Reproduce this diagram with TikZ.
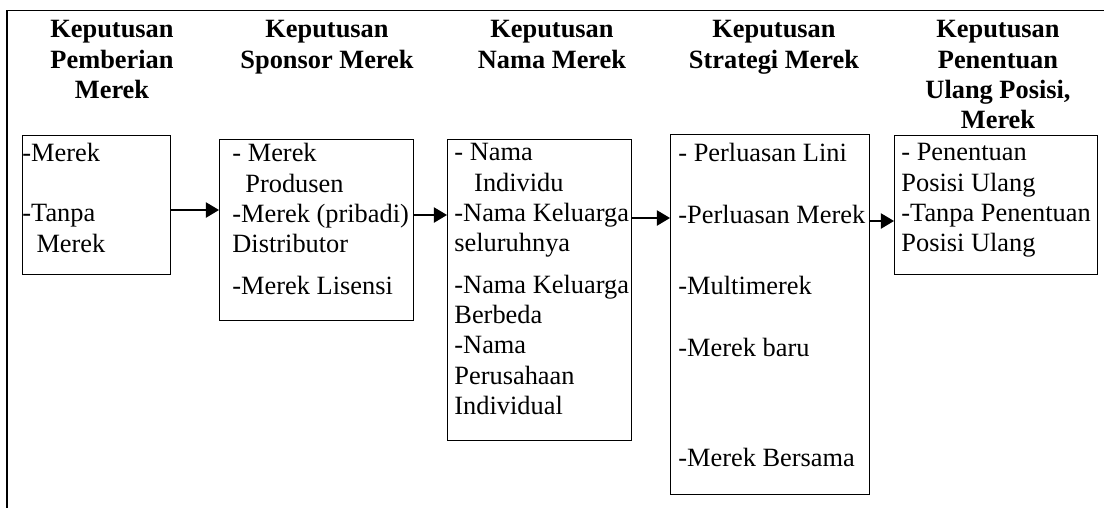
\documentclass[tikz,border=0pt]{standalone}
\usepackage{fontspec}
\setmainfont{Liberation Serif}
\usepackage{tikz}
\usetikzlibrary{arrows.meta}
\usetikzlibrary{positioning}
\newcommand{\pxu}{0.455pt}
\newcommand{\txt}{\fontsize{12}{13.8}\selectfont}

\begin{document}
\begin{tikzpicture}[x=\pxu, y=-\pxu,
    head/.style={font=\txt\bfseries, align=center, inner sep=0, anchor=north},
    kotak/.style={draw, line width=0.6pt, anchor=north west, inner sep=0},
    isi/.style={font=\txt, align=left, inner sep=0, anchor=north west},
    panah/.style={line width=0.6pt, -{Triangle[length=6pt,width=7pt]}}]
  \useasboundingbox (0,0) rectangle (1104,508);
  \draw[line width=0.6pt] (1104,10.5) -- (7,10.5) -- (7,508);
  % judul
  \node[head] (h-pemberian) at (112,20) {Keputusan\\Pemberian\\Merek};
  \node[head] (h-sponsor)   at (327,20) {Keputusan\\Sponsor Merek};
  \node[head] (h-nama)      at (552,20) {Keputusan\\Nama Merek};
  \node[head] (h-strategi)  at (774,20) {Keputusan\\Strategi Merek};
  \node[head] (h-posisi)    at (998,20) {Keputusan\\Penentuan\\Ulang Posisi,\\Merek};
  % kotak
  \node[kotak, minimum width=148*\pxu, minimum height=139*\pxu] (pemberian) at (22,135) {};
  \node[kotak, minimum width=194*\pxu, minimum height=181*\pxu] (sponsor) at (219,139) {};
  \node[kotak, minimum width=184*\pxu, minimum height=301*\pxu] (nama) at (447,139) {};
  \node[kotak, minimum width=199*\pxu, minimum height=360*\pxu] (strategi) at (670,134) {};
  \node[kotak, minimum width=203*\pxu, minimum height=139*\pxu] (posisi) at (894,135) {};
  % isi kotak
  \node[isi] (t-pemberian) at (22,143)
    {-Merek\\[13.5pt]-Tanpa\\\hspace*{6.4pt}Merek};
  \node[isi] (t-sponsor) at (232,143)
    {- Merek\\\hspace*{5.9pt}Produsen\\-Merek (pribadi)\\Distributor\\[5pt]-Merek Lisensi};
  \node[isi] (t-nama) at (454,143)
    {- Nama\\\hspace*{9pt}Individu\\-Nama Keluarga\\seluruhnya\\[5pt]-Nama Keluarga\\Berbeda\\-Nama\\Perusahaan\\Individual};
  \node[isi] (t-strategi) at (678,143)
    {- Perluasan Lini\\[14.4pt]-Perluasan Merek\\[18.5pt]-Multimerek\\[14.4pt]-Merek baru\\[36.3pt]-Merek Bersama};
  \node[isi] (t-posisi) at (901,143)
    {- Penentuan\\Posisi Ulang\\-Tanpa Penentuan\\Posisi Ulang};
  % panah
  \coordinate (r1) at (0,210);
  \coordinate (r2) at (0,215);
  \coordinate (r3) at (0,218);
  \coordinate (r4) at (0,221);
  \path[panah]
    (pemberian.east|-r1) edge (sponsor.west|-r1)
    (sponsor.east|-r2) edge (nama.west|-r2)
    (nama.east|-r3) edge (strategi.west|-r3)
    (strategi.east|-r4) edge (posisi.west|-r4);
\end{tikzpicture}
\end{document}
